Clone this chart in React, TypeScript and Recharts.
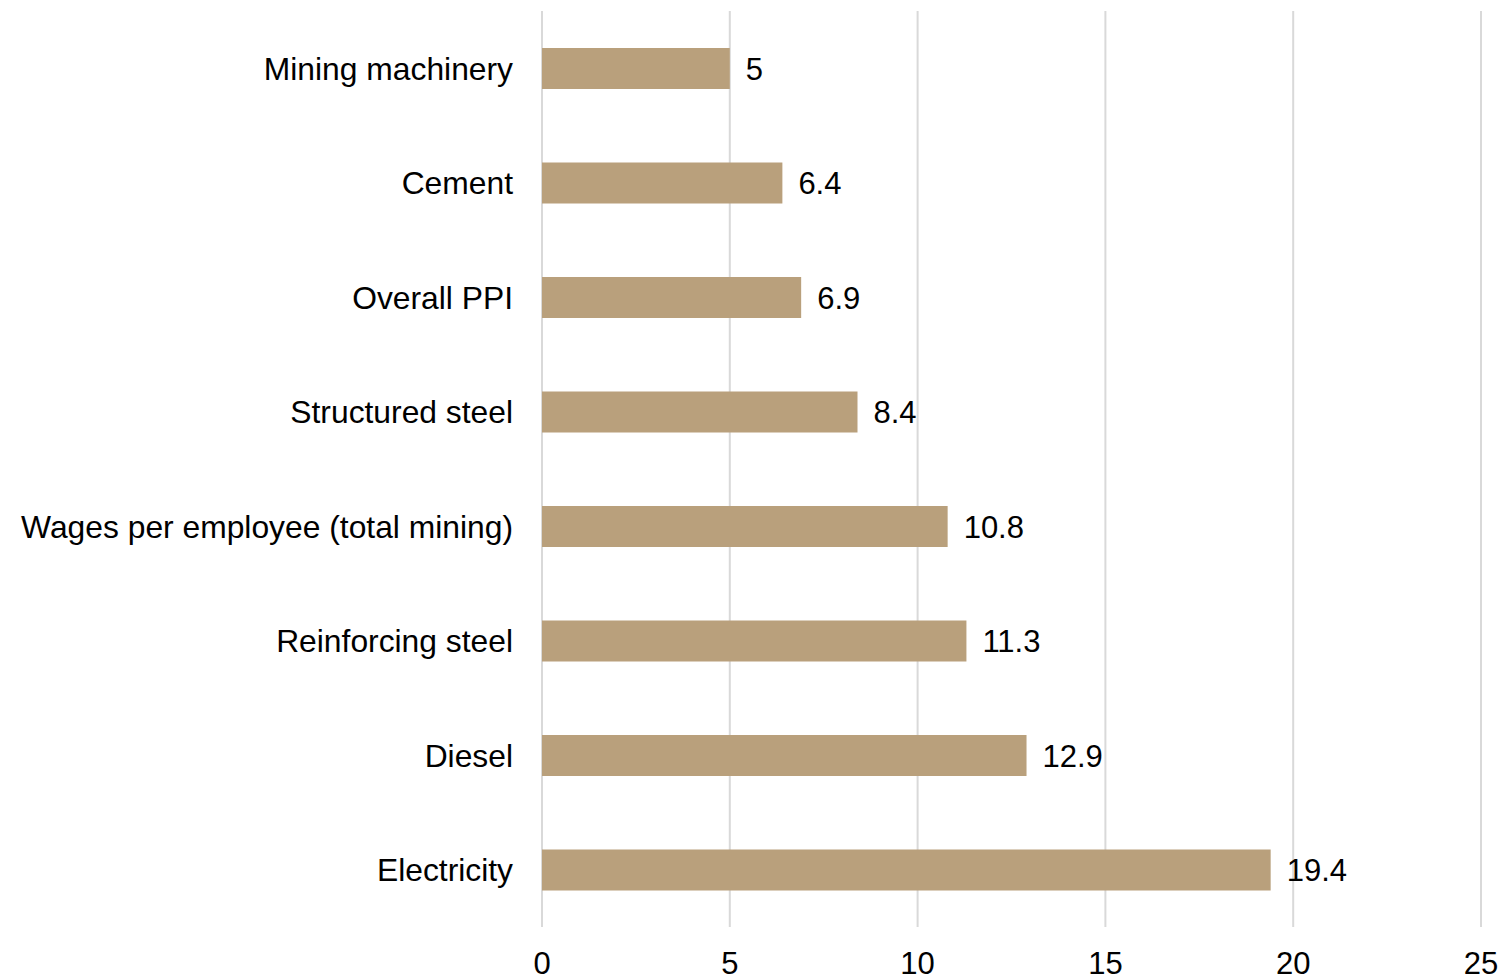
import React from "react";
import { BarChart, Bar, XAxis, YAxis, CartesianGrid, LabelList } from "recharts";

const categories = [
  "Mining machinery",
  "Cement",
  "Overall PPI",
  "Structured steel",
  "Wages per employee (total mining)",
  "Reinforcing steel",
  "Diesel",
  "Electricity",
];
const values = [5, 6.4, 6.9, 8.4, 10.8, 11.3, 12.9, 19.4];
const xTicks = [0, 5, 10, 15, 20, 25];

const data = categories.map((name, i) => ({ name, value: values[i] }));

const FONT = '"Liberation Sans", Arial, sans-serif';

export default function App() {
  return (
    <div style={{ position: "absolute", left: 0, top: 0, background: "#fff" }}>
      <BarChart
        width={1502}
        height={979}
        data={data}
        layout="vertical"
        margin={{ top: 11, right: 21, bottom: 0, left: 0 }}
        barCategoryGap={0}
      >
        <CartesianGrid horizontal={false} stroke="#d9d9d9" strokeWidth={2} />
        <XAxis
          type="number"
          domain={[0, 25]}
          ticks={xTicks}
          axisLine={false}
          tickLine={false}
          tickSize={0}
          tickMargin={25}
          height={52}
          tick={{ fontSize: 31, fill: "#000", fontFamily: FONT }}
        />
        <YAxis
          type="category"
          dataKey="name"
          width={542}
          axisLine={false}
          tickLine={false}
          tickSize={0}
          tickMargin={29}
          interval={0}
          tick={{ fontSize: 31.8, fill: "#000", fontFamily: FONT }}
        />
        <Bar dataKey="value" fill="#B9A07C" barSize={41} isAnimationActive={false}>
          <LabelList
            dataKey="value"
            position="right"
            offset={16}
            style={{ fontSize: 31, fill: "#000", fontFamily: FONT }}
          />
        </Bar>
      </BarChart>
    </div>
  );
}
